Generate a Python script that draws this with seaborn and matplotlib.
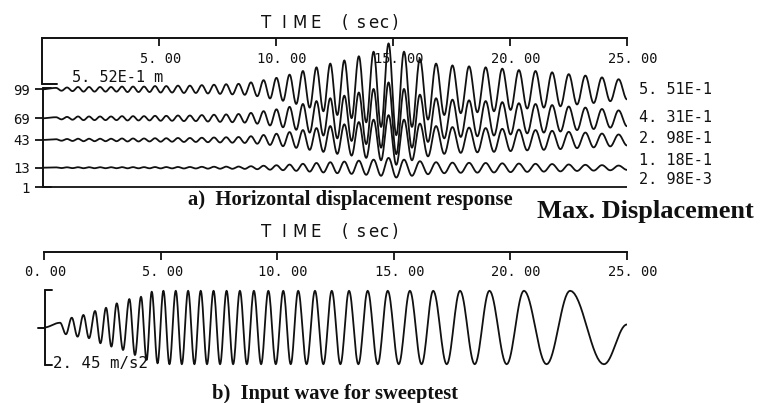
import numpy as np
import pandas as pd
import matplotlib
matplotlib.use("Agg")
import matplotlib.pyplot as plt
import seaborn as sns

# ---- data ----
# a) horizontal displacement response: time of each response peak (sec)
peak_t = [0.60, 1.07, 1.54, 2.01, 2.48, 2.95, 3.42, 3.89, 4.36, 4.83,
          5.31, 5.81, 6.32, 6.83, 7.35, 7.87, 8.40, 8.93, 9.47, 10.02,
          10.58, 11.15, 11.73, 12.32, 12.92, 13.54, 14.17, 14.81, 15.47, 16.15,
          16.84, 17.54, 18.25, 18.96, 19.67, 20.38, 21.09, 21.80, 22.51, 23.22,
          23.93, 24.64]

# peak displacement (m) for each floor at those peaks
disp_99 = [0.017, 0.022, 0.028, 0.028, 0.028, 0.028, 0.033, 0.033, 0.033, 0.039,
           0.039, 0.044, 0.044, 0.050, 0.055, 0.061, 0.066, 0.083, 0.110, 0.138,
           0.176, 0.220, 0.264, 0.309, 0.347, 0.397, 0.452, 0.551, 0.452, 0.364,
           0.309, 0.287, 0.276, 0.264, 0.248, 0.231, 0.220, 0.204, 0.182, 0.165,
           0.143, 0.121]
disp_69 = [0.013, 0.017, 0.022, 0.022, 0.022, 0.022, 0.026, 0.026, 0.026, 0.030,
           0.030, 0.034, 0.034, 0.039, 0.043, 0.047, 0.052, 0.065, 0.086, 0.108,
           0.138, 0.172, 0.207, 0.241, 0.272, 0.310, 0.353, 0.431, 0.353, 0.284,
           0.241, 0.224, 0.216, 0.207, 0.194, 0.181, 0.172, 0.159, 0.142, 0.129,
           0.112, 0.095]
disp_43 = [0.009, 0.012, 0.015, 0.015, 0.015, 0.015, 0.018, 0.018, 0.018, 0.021,
           0.021, 0.024, 0.024, 0.027, 0.030, 0.033, 0.036, 0.045, 0.060, 0.075,
           0.095, 0.119, 0.143, 0.167, 0.188, 0.215, 0.244, 0.298, 0.244, 0.197,
           0.167, 0.155, 0.149, 0.143, 0.134, 0.125, 0.119, 0.110, 0.098, 0.089,
           0.077, 0.066]
disp_13 = [0.004, 0.005, 0.006, 0.006, 0.006, 0.006, 0.007, 0.007, 0.007, 0.008,
           0.008, 0.009, 0.009, 0.011, 0.012, 0.013, 0.014, 0.018, 0.024, 0.030,
           0.038, 0.047, 0.057, 0.066, 0.074, 0.085, 0.097, 0.118, 0.097, 0.078,
           0.066, 0.061, 0.059, 0.057, 0.053, 0.050, 0.047, 0.044, 0.039, 0.035,
           0.031, 0.026]
# floor 1 peak is only 2.98E-3 m -> drawn as a flat trace
disp_1_t = [0.0, 25.0]
disp_1 = [0.0, 0.0]

floors = ["99", "69", "43", "13", "1"]
max_labels = ["5. 51E-1", "4. 31E-1", "2. 98E-1", "1. 18E-1", "2. 98E-3"]

# b) input wave for sweeptest: successive extrema (sec, m/s2)
input_t = [0.00, 0.69, 0.94, 1.19, 1.44, 1.69, 1.93, 2.19, 2.42, 2.66,
           2.89, 3.12, 3.39, 3.66, 3.90, 4.16, 4.40, 4.62, 4.87, 5.12,
           5.38, 5.65, 5.91, 6.18, 6.45, 6.72, 6.99, 7.27, 7.55, 7.83,
           8.11, 8.40, 8.70, 9.00, 9.31, 9.62, 9.94, 10.26, 10.58, 10.90,
           11.26, 11.62, 11.98, 12.34, 12.71, 13.08, 13.48, 13.88, 14.31, 14.74,
           15.21, 15.69, 16.19, 16.69, 17.27, 17.84, 18.47, 19.10, 19.84, 20.58,
           21.55, 22.56, 24.01, 25.00]
input_a = [0.00, 0.31, -0.44, 0.64, -0.60, 0.82, -0.70, 1.08, -1.03, 1.29,
           -1.25, 1.58, -1.47, 1.86, -1.80, 2.01, -2.12, 2.34, -2.34, 2.40,
           -2.40, 2.40, -2.40, 2.40, -2.40, 2.40, -2.40, 2.40, -2.40, 2.40,
           -2.40, 2.40, -2.40, 2.40, -2.40, 2.40, -2.40, 2.40, -2.40, 2.40,
           -2.40, 2.40, -2.40, 2.40, -2.40, 2.40, -2.40, 2.40, -2.40, 2.40,
           -2.40, 2.40, -2.40, 2.40, -2.40, 2.40, -2.40, 2.40, -2.40, 2.40,
           -2.40, 2.40, -2.40, 0.20]

a_ticks = [5, 10, 15, 20, 25]
a_tick_labels = ["5. 00", "10. 00", "15. 00", "20. 00", "25. 00"]
b_ticks = [0, 5, 10, 15, 20, 25]
b_tick_labels = ["0. 00", "5. 00", "10. 00", "15. 00", "20. 00", "25. 00"]

# ---- layout ----
W, H = 760, 403
M_PX = 0.552 / 46          # m per pixel in panel a
G_PX = 2.45 / 37.5         # m/s2 per pixel in panel b
floor_offset = [1.176, 0.828, 0.568, 0.235, 0.0]   # baseline of each trace
mono = "DejaVu Sans Mono"
serif = "Liberation Serif"
ink = "#111111"


def fx(x):
    return x / W


def fy(y):
    return 1 - y / H


def smooth(t_ext, a_ext, n=16):
    # half-cosine between consecutive extrema
    xs, ys = [], []
    for i in range(len(t_ext) - 1):
        s = np.linspace(0, 1, n, endpoint=False)
        xs.extend(t_ext[i] + (t_ext[i + 1] - t_ext[i]) * s)
        ys.extend(a_ext[i] + (a_ext[i + 1] - a_ext[i]) * (1 - np.cos(np.pi * s)) / 2)
    xs.append(t_ext[-1])
    ys.append(a_ext[-1])
    return pd.DataFrame({"t": xs, "v": ys})


def cycles(peaks, amps, end=25.0):
    t_ext, a_ext = [0.0], [0.0]
    for i, (t, a) in enumerate(zip(peaks, amps)):
        trough = (t + peaks[i + 1]) / 2 if i + 1 < len(peaks) else end
        t_ext += [t, trough]
        a_ext += [a, -a]
    return t_ext, a_ext


sns.set_theme(style="white")
plt.rcParams["font.family"] = ["DejaVu Sans"]

fig = plt.figure(figsize=(W / 100, H / 100), dpi=100)

# ================= a) horizontal displacement =================
ax_a = fig.add_axes([fx(42), fy(190), fx(627) - fx(42), (190 - 38) / H])
for disp, off in zip([disp_99, disp_69, disp_43, disp_13], floor_offset[:4]):
    te, ae = cycles(peak_t, disp)
    df = smooth(te, ae)
    df["v"] = df["v"] + off
    sns.lineplot(data=df, x="t", y="v", ax=ax_a, color=ink, lw=1.3,
                 sort=False, estimator=None)
sns.lineplot(x=disp_1_t, y=np.array(disp_1) + floor_offset[4], ax=ax_a,
             color=ink, lw=1.3, estimator=None)

top_a = (187.3 - 38) * M_PX
ax_a.set_xlim(0, 25)
ax_a.set_ylim(-(190 - 187.3) * M_PX, top_a)
for s in ["left", "right", "bottom"]:
    ax_a.spines[s].set_visible(False)
ax_a.spines["top"].set_linewidth(1.4)
ax_a.spines["top"].set_color(ink)
ax_a.xaxis.tick_top()
ax_a.set_xticks(a_ticks)
ax_a.tick_params(axis="x", direction="in", length=6, width=1.3, color=ink,
                 labeltop=False, labelbottom=False)
ax_a.set_yticks(floor_offset)
ax_a.set_yticklabels(floors, family=mono, fontsize=10, color=ink)
ax_a.tick_params(axis="y", left=True, direction="out", length=5, width=1.3,
                 color=ink, pad=3.6)
ax_a.set_xlabel("")
ax_a.set_ylabel("")
for t, lab in zip(a_ticks, a_tick_labels):
    ax_a.annotate(lab, xy=(t, 1), xycoords=("data", "axes fraction"),
                  xytext=(-13.7, -15.3), textcoords="offset points",
                  ha="left", va="center", family=mono, fontsize=9.8,
                  color=ink, zorder=5)

# amplitude scale bar (5.52E-1 m) and floor axis
ax_a.plot([0, 0], [top_a, top_a - 0.552], color=ink, lw=1.4, clip_on=False)
ax_a.plot([0, 0.63], [top_a - 0.552, top_a - 0.552], color=ink, lw=1.4, clip_on=False)
ax_a.plot([0.03, 0.03], [floor_offset[0] + 0.02, 0], color=ink, lw=1.4, clip_on=False)
ax_a.plot([0.03, 0.4], [floor_offset[0] + 0.02] * 2, color=ink, lw=1.4, clip_on=False)
ax_a.plot([0.03, 0.4], [0, 0], color=ink, lw=1.4, clip_on=False)
fig.text(fx(72), fy(77.7), "5. 52E-1 m", family=mono, fontsize=11,
         ha="left", va="center", color=ink)

for lab, y in zip(max_labels, [89.3, 117.3, 138.3, 160.7, 179.0]):
    fig.text(fx(639), fy(y), lab, family=mono, fontsize=11,
             ha="left", va="center", color=ink)

# ================= b) input wave =================
ax_b = fig.add_axes([fx(44), fy(372), fx(627) - fx(44), (372 - 252) / H])
df_b = smooth(input_t, input_a)
sns.lineplot(data=df_b, x="t", y="v", ax=ax_b, color=ink, lw=1.3,
             sort=False, estimator=None)
ax_b.set_xlim(0, 25)
ax_b.set_ylim((327.5 - 372) * G_PX, (327.5 - 252) * G_PX)
for s in ["left", "right", "bottom"]:
    ax_b.spines[s].set_visible(False)
ax_b.spines["top"].set_linewidth(1.4)
ax_b.spines["top"].set_color(ink)
ax_b.xaxis.tick_top()
ax_b.set_xticks(b_ticks)
ax_b.tick_params(axis="x", direction="in", length=6, width=1.3, color=ink,
                 labeltop=False, labelbottom=False)
ax_b.set_yticks([])
ax_b.set_xlabel("")
ax_b.set_ylabel("")
for t, lab in zip(b_ticks, b_tick_labels):
    ax_b.annotate(lab, xy=(t, 1), xycoords=("data", "axes fraction"),
                  xytext=(-13.7, -14.5), textcoords="offset points",
                  ha="left", va="center", family=mono, fontsize=9.8,
                  color=ink, zorder=5)

# amplitude bracket (2.45 m/s2)
ax_b.plot([0.04, 0.04], [-2.45, 2.45], color=ink, lw=1.4, clip_on=False)
ax_b.plot([0.04, 0.34], [2.45, 2.45], color=ink, lw=1.4, clip_on=False)
ax_b.plot([0.04, 0.34], [-2.45, -2.45], color=ink, lw=1.4, clip_on=False)
ax_b.plot([-0.26, 0.04], [0, 0], color=ink, lw=1.4, clip_on=False)
fig.text(fx(53), fy(363.3), "2. 45 m/s2", family=mono, fontsize=11.3,
         ha="left", va="center", color=ink)

# ---- titles, letter-spaced like the original plotter output ----
title_x = [266, 284, 300, 316, 345, 360, 373, 384, 395]
for ch, x in zip("TIME(sec)", title_x):
    fig.text(fx(x), fy(28.3), ch, fontsize=12, ha="center", va="baseline", color=ink)
    fig.text(fx(x), fy(236.7), ch, fontsize=12, ha="center", va="baseline", color=ink)

fig.text(fx(188), fy(205), "a)  Horizontal displacement response", family=serif,
         fontweight="bold", fontsize=14.9, ha="left", va="baseline", color=ink)
fig.text(fx(537), fy(217.5), "Max. Displacement", family=serif,
         fontweight="bold", fontsize=19, ha="left", va="baseline", color=ink)
fig.text(fx(212), fy(399.3), "b)  Input wave for sweeptest", family=serif,
         fontweight="bold", fontsize=14.8, ha="left", va="baseline", color=ink)

fig.savefig("out.png", dpi=100, facecolor="white")
